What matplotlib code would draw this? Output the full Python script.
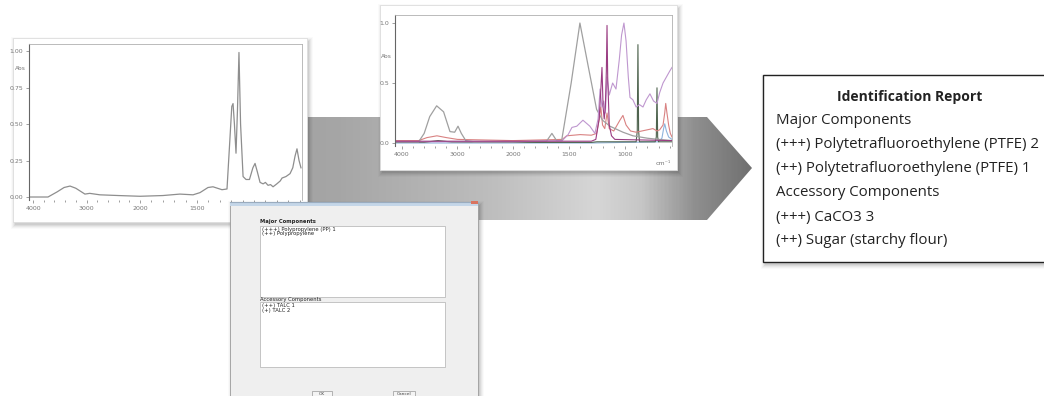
import matplotlib
matplotlib.use("Agg")
import matplotlib.pyplot as plt
import numpy as np
from matplotlib.patches import Rectangle, Polygon
from matplotlib.colors import LinearSegmentedColormap

# ---- spectrum 1 (single sample, gray) ----
wn1 = [4075, 3720, 3550, 3420, 3308, 3200, 3030, 2940, 2750, 2400, 2000, 1800, 1650,
       1535, 1474, 1404, 1360, 1281, 1237, 1215, 1195, 1184, 1172, 1158, 1145, 1132,
       1118, 1096, 1070, 1040, 1010, 991, 970, 947, 920, 900, 877, 855, 833, 800, 770,
       754, 720, 684, 660, 640, 623, 605, 588]
abs1 = [0.0, 0.0, 0.035, 0.065, 0.075, 0.06, 0.02, 0.025, 0.015, 0.01, 0.005, 0.01, 0.02,
        0.015, 0.03, 0.065, 0.07, 0.05, 0.055, 0.35, 0.62, 0.64, 0.5, 0.30, 0.6, 0.99,
        0.5, 0.14, 0.12, 0.12, 0.2, 0.23, 0.17, 0.10, 0.09, 0.1, 0.08, 0.085, 0.07, 0.09, 0.11,
        0.13, 0.14, 0.16, 0.2, 0.28, 0.33, 0.25, 0.2]

# ---- spectrum 2 (overlay of references) ----
gray2_wn = [4126, 3700, 3600, 3500, 3375, 3250, 3135, 3050, 2990, 2930, 2850, 2700, 2000,
            1700, 1652, 1610, 1565, 1480, 1402, 1330, 1253, 1200, 1134, 1018, 929, 800, 700, 580]
gray2 = [0.01, 0.01, 0.08, 0.22, 0.31, 0.26, 0.095, 0.09, 0.14, 0.08, 0.02, 0.01, 0.01,
         0.015, 0.08, 0.02, 0.02, 0.5, 1.0, 0.65, 0.28, 0.19, 0.14, 0.09, 0.06, 0.04, 0.03, 0.02]

violet2_wn = [4126, 2000, 1560, 1507, 1473, 1430, 1375, 1313, 1268, 1240, 1222, 1205, 1190,
              1175, 1160, 1140, 1110, 1080, 1050, 1030, 1009, 990, 970, 955, 929, 900, 870,
              839, 810, 777, 745, 714, 690, 660, 630, 600, 580]
violet2 = [0.01, 0.01, 0.02, 0.07, 0.13, 0.14, 0.19, 0.14, 0.08, 0.2, 0.45, 0.3, 0.35,
           0.25, 0.55, 0.4, 0.5, 0.45, 0.7, 0.9, 1.0, 0.85, 0.55, 0.38, 0.36, 0.3, 0.32,
           0.3, 0.36, 0.41, 0.35, 0.33, 0.42, 0.5, 0.55, 0.6, 0.63]

magenta2_wn = [4126, 1300, 1260, 1230, 1215, 1205, 1195, 1185, 1175, 1166, 1160, 1154,
               1140, 1120, 1090, 580]
magenta2 = [0.015, 0.015, 0.03, 0.2, 0.45, 0.63, 0.3, 0.2, 0.3, 0.6, 0.98, 0.55,
            0.15, 0.06, 0.03, 0.02]

red2_wn = [4126, 3700, 3550, 3370, 3200, 3000, 2500, 2000, 1560, 1520, 1400, 1300, 1253,
           1230, 1215, 1200, 1180, 1160, 1140, 1100, 1045, 1018, 990, 950, 900, 850, 800,
           750, 714, 690, 660, 645, 636, 625, 610, 595, 580]
red2 = [0.02, 0.02, 0.045, 0.06, 0.045, 0.03, 0.025, 0.02, 0.03, 0.06, 0.07, 0.065, 0.08,
        0.2, 0.3, 0.15, 0.12, 0.25, 0.12, 0.1, 0.19, 0.23, 0.15, 0.1, 0.09, 0.1, 0.11,
        0.12, 0.1, 0.11, 0.15, 0.25, 0.33, 0.25, 0.15, 0.08, 0.05]

green2_wn = [4126, 3600, 3350, 3100, 2000, 1300, 1250, 900, 890, 884, 878, 870, 730, 720,
             714, 708, 700, 580]
green2 = [0.005, 0.005, 0.02, 0.008, 0.005, 0.005, 0.01, 0.01, 0.1, 0.82, 0.1, 0.01, 0.01,
          0.05, 0.46, 0.05, 0.01, 0.01]

blue2_wn = [4126, 1300, 700, 670, 655, 645, 630, 610, 580]
blue2 = [0.0, 0.0, 0.01, 0.04, 0.12, 0.16, 0.1, 0.05, 0.03]

report_title = "Identification Report"
report_lines = ["Major Components",
                "(+++) Polytetrafluoroethylene (PTFE) 2",
                "(++) Polytetrafluoroethylene (PTFE) 1",
                "Accessory Components",
                "(+++) CaCO3 3",
                "(++) Sugar (starchy flour)"]

major_list = ["(+++) Polypropylene (PP) 1", "(++) Polypropylene"]
accessory_list = ["(++) TALC 1", "(+) TALC 2"]

W, H = 1044, 396
fig = plt.figure(figsize=(W / 100, H / 100), dpi=100)
fig.patch.set_facecolor("white")


def px_axes(rect_px, z):
    # rect in pixel coords (left, top, right, bottom)
    l, t, r, b = rect_px
    return fig.add_axes([l / W, (H - b) / H, (r - l) / W, (b - t) / H], zorder=z)


def shadow(ax, x, y, w, h, z):
    for i, a in enumerate([0.06, 0.05, 0.04, 0.03, 0.02]):
        ax.add_patch(Rectangle((x + 2 - i, y + 3 - i), w + 2 * i, h + 2 * i,
                               facecolor="black", alpha=a, lw=0, zorder=z))


def wave_scale(k):
    # IR convention: scale doubles below 2000 cm-1
    fwd = lambda x: np.where(x >= 2000, x, 2000 - k * (2000 - x))
    inv = lambda y: np.where(y >= 2000, y, 2000 - (2000 - y) / k)
    return fwd, inv


# ---- background: arrow, panels, report box ----
bg = fig.add_axes([0, 0, 1, 1], zorder=0)
bg.set_xlim(0, W)
bg.set_ylim(H, 0)
bg.axis("off")

arrow = Polygon([(200, 117), (707, 117), (752, 168), (707, 220), (200, 220)],
                closed=True, facecolor="none", edgecolor="none")
bg.add_patch(arrow)
stops = [(0.0, (0.62,) * 3), (0.25, (0.65,) * 3), (0.52, (0.74,) * 3),
         (0.72, (0.84,) * 3), (0.8, (0.78,) * 3), (0.9, (0.56,) * 3), (1.0, (0.44,) * 3)]
cmap = LinearSegmentedColormap.from_list("band", stops)
grad = np.linspace(0, 1, 400).reshape(1, -1)
im = bg.imshow(grad, cmap=cmap, extent=[200, 752, 220, 117], aspect="auto", zorder=1)
im.set_clip_path(arrow)

# panel 1
shadow(bg, 13, 38, 294, 184, 2)
bg.add_patch(Rectangle((13, 38), 294, 184, facecolor="white", edgecolor="#dddddd", lw=0.6, zorder=3))
# panel 2
shadow(bg, 380, 5, 297, 165, 2)
bg.add_patch(Rectangle((380, 5), 297, 165, facecolor="white", edgecolor="#dddddd", lw=0.6, zorder=3))

# report box
shadow(bg, 763, 75, 300, 187, 2)
bg.add_patch(Rectangle((763, 75), 300, 187, facecolor="white", edgecolor="#222222", lw=1.0, zorder=3))
bg.text(910, 97, report_title, ha="center", va="center", fontsize=10.0,
        fontweight="bold", family="Open Sans", color="#222222", zorder=4)
for i, line in enumerate(report_lines):
    bg.text(776, 121 + i * 24, line, ha="left", va="center", fontsize=10.85,
            family="Open Sans", color="#222222", zorder=4)


def style_spectrum(ax, ylim, yticks, ylabels, abs_y, majors, minors):
    ax.set_facecolor("none")
    ax.set_ylim(*ylim)
    ax.set_yticks(yticks)
    ax.set_yticklabels(ylabels)
    ax.set_xticks(majors)
    ax.set_xticklabels([str(v) for v in majors])
    ax.set_xticks(minors, minor=True)
    for s in ["top", "right"]:
        ax.spines[s].set_color("#b0b0b0")
        ax.spines[s].set_linewidth(0.6)
    ax.spines["left"].set_color("#666666")
    ax.spines["left"].set_linewidth(0.8)
    ax.spines["bottom"].set_visible(False)
    ax.tick_params(axis="both", which="both", labelsize=4.5, colors="#777777",
                   length=2.5, width=0.5, pad=1.5)
    ax.tick_params(axis="x", which="minor", length=1.5)
    ax.text(-0.012, abs_y, "Abs", transform=ax.get_yaxis_transform(),
            ha="right", va="center", fontsize=4.2, color="#777777")


# ---- spectrum 1 ----
ax1 = px_axes((29, 44, 302, 200), 1)
ax1.set_xscale("function", functions=wave_scale(2.13))
ax1.set_xlim(4075, 579)
ax1.plot(wn1, abs1, color="#8e8e8e", lw=0.9)
style_spectrum(ax1, (-0.0205, 1.048), [0, 0.25, 0.5, 0.75, 1.0],
               ["0.00", "0.25", "0.50", "0.75", "1.00"], 0.877,
               [4000, 3000, 2000, 1500],
               list(np.arange(3800, 2000, -200)) + list(np.arange(1900, 580, -100)))

# ---- spectrum 2 ----
ax2 = px_axes((395, 15, 672, 146), 1)
ax2.set_xscale("function", functions=wave_scale(2.02))
ax2.set_xlim(4126, 580)
ax2.plot(blue2_wn, blue2, color="#8fb4dc", lw=0.8)
ax2.plot(green2_wn, green2, color="#4f644f", lw=0.8)
ax2.plot(red2_wn, red2, color="#d98282", lw=0.8)
ax2.plot(gray2_wn, gray2, color="#a0a0a0", lw=0.9)
ax2.plot(violet2_wn, violet2, color="#bf97cf", lw=0.8)
ax2.plot(magenta2_wn, magenta2, color="#9a3c82", lw=0.8)
style_spectrum(ax2, (-0.025, 1.067), [0, 0.5, 1.0], ["0.0", "0.5", "1.0"], 0.72,
               [4000, 3000, 2000, 1500, 1000],
               list(np.arange(3800, 2000, -200)) + list(np.arange(1900, 580, -100)))
ax2.text(0.995, -0.135, "cm\u207b\u00b9", transform=ax2.transAxes, ha="right",
         va="center", fontsize=4.5, color="#777777")

# ---- dialog window on top ----
top = fig.add_axes([0, 0, 1, 1], zorder=5)
top.set_xlim(0, W)
top.set_ylim(H, 0)
top.patch.set_alpha(0)
top.axis("off")
shadow(top, 230, 202, 248, 200, 1)
top.add_patch(Rectangle((230, 202), 248, 200, facecolor="#efefef", edgecolor="#9a9a9a", lw=0.6, zorder=2))
top.add_patch(Rectangle((230, 202), 248, 4, facecolor="#c4d6e8", edgecolor="none", zorder=3))
top.plot([230, 478], [202, 202], color="#9aacbf", lw=0.8, zorder=4)
top.add_patch(Rectangle((471, 201), 7, 3, facecolor="#d9735f", edgecolor="none", zorder=4))

dlg_font = dict(fontsize=3.8, color="#222222", va="center", ha="left", zorder=5)
top.text(260, 222, "Major Components", fontweight="bold", **dlg_font)
top.add_patch(Rectangle((260, 226), 185, 71, facecolor="white", edgecolor="#b0b0b0", lw=0.5, zorder=3))
for i, s in enumerate(major_list):
    top.text(262, 229 + i * 4.5, s, **dlg_font)
top.text(260, 299, "Accessory Components", **dlg_font)
top.add_patch(Rectangle((260, 302), 185, 65, facecolor="white", edgecolor="#b0b0b0", lw=0.5, zorder=3))
for i, s in enumerate(accessory_list):
    top.text(262, 306 + i * 4.5, s, **dlg_font)
for (bx, bw, lab) in [(312, 20, "OK"), (393, 22, "Cancel")]:
    top.add_patch(Rectangle((bx, 391), bw, 8, facecolor="#f4f4f4", edgecolor="#999999", lw=0.5, zorder=3))
    top.text(bx + bw / 2, 394, lab, fontsize=3.2, color="#444444", ha="center", va="center", zorder=5)

fig.savefig("out.png", dpi=100)
